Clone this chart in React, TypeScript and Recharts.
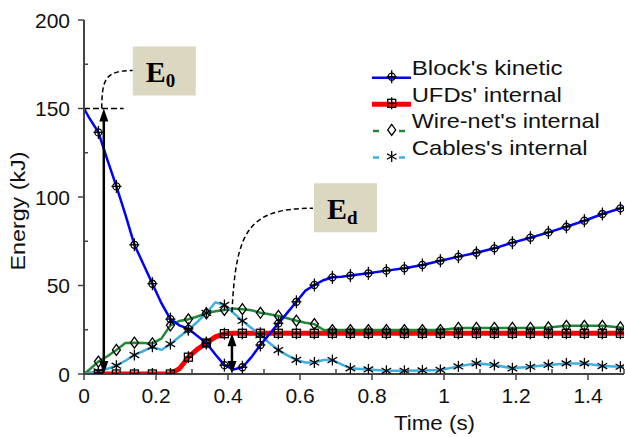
import React from "react"
import { LineChart, Line, XAxis, YAxis, ReferenceLine, Legend } from "recharts"

// sample times (s)
const times = [
  0, 0.015, 0.04, 0.065, 0.09, 0.115, 0.14, 0.165, 0.19, 0.215,
  0.24, 0.265, 0.29, 0.315, 0.34, 0.365, 0.39, 0.415, 0.44, 0.465,
  0.49, 0.515, 0.54, 0.565, 0.59, 0.615, 0.64, 0.665, 0.69, 0.715,
  0.74, 0.79, 0.84, 0.89, 0.94, 0.99, 1.04, 1.09, 1.14, 1.19,
  1.24, 1.29, 1.34, 1.39, 1.44, 1.49, 1.5,
]

// energies (kJ)
const blockKinetic = [
  150, 144.5, 136.5, 121, 106, 90, 73, 62, 51, 40,
  31, 27.5, 25.5, 21.5, 17.5, 11, 5, 2.6, 3.8, 9.5,
  16.4, 22.5, 28.6, 34.7, 40.8, 47, 50.3, 53, 54.6, 55,
  55.6, 56.9, 58.4, 59.7, 61.6, 64, 66.3, 68.5, 71, 74.2,
  77, 80, 83.2, 86.6, 90.4, 93.6, 94.3,
]
const ufdsInternal = [
  0, 0, 0, 0, 0, 0, 0, 0, 0, 0,
  0, 3, 9.5, 14, 17.5, 21, 22.8, 23, 23, 23,
  23, 23, 23, 23, 23, 23, 23, 23, 23, 23,
  23, 23, 23, 23, 23, 23, 23, 23, 23, 23,
  23, 23, 23, 23, 23, 23, 23,
]
const wireNetInternal = [
  0, 2.5, 7, 10, 13.6, 17.5, 17.7, 17.5, 17.3, 20,
  27.5, 30, 30.9, 32.5, 34.3, 35.5, 36.2, 37, 36.6, 36,
  34.6, 33.8, 32.8, 31.5, 30.1, 29, 28.2, 25, 24.8, 24.8,
  24.8, 24.8, 24.8, 24.8, 24.8, 24.8, 26, 26, 26, 26,
  26, 26.3, 27.2, 27.2, 27.2, 26.3, 26,
]
const cablesInternal = [
  0, 0.5, 1.5, 3, 4.7, 7.5, 10.7, 13, 15.4, 13.6,
  16.9, 21, 24.9, 29.5, 34.5, 40.5, 39, 34.5, 30, 26,
  22, 17.5, 13.5, 10.5, 8, 6.5, 6.5, 7.9, 7.9, 5.5,
  3.2, 2.6, 1.8, 1.8, 2, 2.3, 4.3, 6, 5.1, 3.2,
  4.1, 5.1, 6, 6, 4.5, 4.1, 4,
]

const xTicks = [0, 0.1, 0.2, 0.3, 0.4, 0.5, 0.6, 0.7, 0.8, 0.9, 1, 1.1, 1.2, 1.3, 1.4, 1.5]
const xLabels = [0, 0.2, 0.4, 0.6, 0.8, 1, 1.2, 1.4]
const yTicks = [0, 25, 50, 75, 100, 125, 150, 175, 200]
const yLabels = [0, 50, 100, 150, 200]

// markers every 0.05 s starting at 0.04 s
const markerStart = 0.04
const markerStep = 0.05

// annotated energies
const initialEnergy = { t: 0.055, value: 150, label: "0" }
const dissipated = { t: 0.411, value: 23, label: "d" }

const series = [
  { key: "kinetic", name: "Block's kinetic", color: "#0000ff", width: 2.5, marker: "circlePlus", dashed: false, textLength: 151 },
  { key: "ufds", name: "UFDs' internal", color: "#ff0000", width: 5, marker: "squarePlus", dashed: false, textLength: 150 },
  { key: "wireNet", name: "Wire-net's internal", color: "#1f8a35", width: 2.5, marker: "diamond", dashed: true, textLength: 188 },
  { key: "cables", name: "Cables's internal", color: "#3eaee3", width: 2.5, marker: "asterisk", dashed: true, textLength: 176 },
]

const rows = times.map((t, i) => ({
  t,
  kinetic: blockKinetic[i],
  ufds: ufdsInternal[i],
  wireNet: wireNetInternal[i],
  cables: cablesInternal[i],
}))

const FONT = "'Liberation Sans', Arial, Helvetica, sans-serif"
const SERIF = "'Liberation Serif', 'Times New Roman', serif"
const AXIS = "#444"
const INK = "#111"

const isMarker = (t: number) => {
  const k = (t - markerStart) / markerStep
  return t >= markerStart - 0.001 && t < 1.495 && Math.abs(k - Math.round(k)) < 0.01
}

function Marker({ kind, cx, cy }: { kind: string; cx: number; cy: number }) {
  const s = { stroke: "#000", strokeWidth: 1.3, fill: "none" }
  if (kind === "circlePlus") {
    return (
      <g {...s}>
        <circle cx={cx} cy={cy} r={3.5} />
        <line x1={cx - 5} y1={cy} x2={cx + 5} y2={cy} />
        <line x1={cx} y1={cy - 6.5} x2={cx} y2={cy + 6.5} />
      </g>
    )
  }
  if (kind === "squarePlus") {
    return (
      <g {...s}>
        <rect x={cx - 4} y={cy - 4} width={8} height={8} />
        <line x1={cx - 4} y1={cy} x2={cx + 4} y2={cy} />
        <line x1={cx} y1={cy - 6} x2={cx} y2={cy + 6} />
      </g>
    )
  }
  if (kind === "diamond") {
    return (
      <g {...s}>
        <polygon points={`${cx},${cy - 5.5} ${cx + 4},${cy} ${cx},${cy + 5.5} ${cx - 4},${cy}`} />
      </g>
    )
  }
  return (
    <g {...s}>
      <line x1={cx} y1={cy - 5.5} x2={cx} y2={cy + 5.5} />
      <line x1={cx - 4.8} y1={cy - 2.8} x2={cx + 4.8} y2={cy + 2.8} />
      <line x1={cx - 4.8} y1={cy + 2.8} x2={cx + 4.8} y2={cy - 2.8} />
    </g>
  )
}

const makeDot = (kind: string) => (props: any) => {
  const { cx, cy, payload, index } = props
  if (cx == null || cy == null || !isMarker(payload.t)) return <g key={`${kind}-${index}`} />
  return <Marker key={`${kind}-${index}`} kind={kind} cx={cx} cy={cy} />
}

function BottomTick(props: any) {
  const { x, y, payload } = props
  const v = payload.value
  const major = Math.round(v * 10) % 2 === 0
  return (
    <g>
      <line x1={x} y1={y} x2={x} y2={major ? y + 6 : y - 5} stroke={AXIS} strokeWidth={1.5} />
      {xLabels.includes(v) && (
        <text x={x} y={y + 29} textAnchor="middle" fontFamily={FONT} fontSize={21} fill={INK}>
          {String(v)}
        </text>
      )}
    </g>
  )
}

function TopTick(props: any) {
  const { x, y, payload } = props
  if (!xLabels.includes(payload.value)) return <g />
  return <line x1={x} y1={y} x2={x} y2={y + 5} stroke={AXIS} strokeWidth={1.5} />
}

function LeftTick(props: any) {
  const { x, y, payload } = props
  const v = payload.value
  const major = yLabels.includes(v)
  return (
    <g>
      <line x1={x} y1={y} x2={major ? x - 6 : x + 4} y2={y} stroke={AXIS} strokeWidth={1.5} />
      {major && (
        <text x={x - 14} y={y + 7.5} textAnchor="end" fontFamily={FONT} fontSize={21} fill={INK}>
          {v}
        </text>
      )}
    </g>
  )
}

function RightTick(props: any) {
  const { x, y, payload } = props
  if (!yLabels.includes(payload.value)) return <g />
  return <line x1={x} y1={y} x2={x - 5} y2={y} stroke={AXIS} strokeWidth={1.5} />
}

function ArrowHead({ x, y, dir }: { x: number; y: number; dir: number }) {
  // dir = -1 points up, 1 points down
  return <polygon points={`${x},${y} ${x - 4.5},${y - dir * 13} ${x + 4.5},${y - dir * 13}`} fill="#000" />
}

function Tag({ x, y, sub }: { x: number; y: number; sub: string }) {
  return (
    <g>
      <rect x={x} y={y} width={63} height={49} fill="#dbd7c1" />
      <text x={x + 13} y={y + 35.5} fontFamily={SERIF} fontWeight="bold" fontSize={30} fill="#000">
        E
        <tspan fontSize={19} dy={5}>{sub}</tspan>
      </text>
    </g>
  )
}

// vertical double arrow with a dashed leader to a label box
function EnergyArrow(props: any, kind: "e0" | "ed") {
  const { x1, y1, y2 } = props
  const x = x1
  const top = Math.min(y1, y2)
  const bottom = Math.max(y1, y2)
  const dash = { stroke: "#000", strokeWidth: 1.5, strokeDasharray: "5 3", fill: "none" }
  return (
    <g>
      <line x1={x} y1={top + 10} x2={x} y2={bottom - 10} stroke="#000" strokeWidth={2.5} />
      <ArrowHead x={x} y={top} dir={-1} />
      <ArrowHead x={x} y={bottom} dir={1} />
      {kind === "e0" ? (
        <>
          <path d={`M ${x - 2} ${top} C ${x - 2} ${top - 30}, ${x + 2} ${top - 38}, ${x + 29} ${top - 38}`} {...dash} />
          <Tag x={x + 29} y={top - 62} sub={initialEnergy.label} />
        </>
      ) : (
        <>
          <path d={`M ${x} ${top - 21} C ${x + 4} ${top - 103}, ${x + 16} ${top - 125}, ${x + 81} ${top - 125}`} {...dash} />
          <Tag x={x + 82} y={top - 150} sub={dissipated.label} />
        </>
      )}
    </g>
  )
}

function LegendBox() {
  const rowH = 26.6
  return (
    <svg width={260} height={112} style={{ display: "block" }}>
      {series.map((s, i) => {
        const ly = 22.7 + i * rowH
        return (
          <g key={s.key}>
            <line
              x1={7}
              y1={ly}
              x2={46}
              y2={ly}
              stroke={s.color}
              strokeWidth={s.width}
              strokeDasharray={s.dashed ? "6 7" : undefined}
              strokeDashoffset={s.dashed ? -1 : undefined}
            />
            {s.dashed && <rect x={21} y={ly - 7} width={12} height={14} fill="#fff" />}
            <Marker kind={s.marker} cx={26.7} cy={ly - 1} />
            <text
              x={46.7}
              y={ly - 2.7}
              fontFamily={FONT}
              fontSize={21}
              fill={INK}
              textLength={s.textLength}
              lengthAdjust="spacingAndGlyphs"
            >
              {s.name}
            </text>
          </g>
        )
      })}
    </svg>
  )
}

// axis titles drawn over the chart
function AxisTitles() {
  return (
    <svg width={625} height={437} style={{ position: "absolute", left: 0, top: 0, pointerEvents: "none" }}>
      <text x={434.5} y={430} textAnchor="middle" fontFamily={FONT} fontSize={21} fill={INK} textLength={81} lengthAdjust="spacingAndGlyphs">
        Time (s)
      </text>
      <text
        x={25}
        y={211}
        transform="rotate(-90 25 211)"
        textAnchor="middle"
        fontFamily={FONT}
        fontSize={21}
        fill={INK}
        textLength={119}
        lengthAdjust="spacingAndGlyphs"
      >
        Energy (kJ)
      </text>
    </svg>
  )
}

export default function App() {
  return (
    <div style={{ position: "absolute", left: 0, top: 0, width: 625, height: 437, background: "#fff" }}>
      <LineChart width={625} height={437} data={rows} margin={{ top: 20, right: 1, bottom: 0, left: 0 }}>
        <XAxis
          dataKey="t"
          type="number"
          domain={[0, 1.5]}
          ticks={xTicks}
          allowDataOverflow
          height={63}
          tickSize={0}
          tickMargin={0}
          tickLine={false}
          axisLine={{ stroke: AXIS, strokeWidth: 2 }}
          tick={BottomTick}
          interval={0}
        />
        <XAxis
          xAxisId="top"
          orientation="top"
          type="number"
          domain={[0, 1.5]}
          ticks={xTicks}
          allowDataOverflow
          height={0}
          tickSize={0}
          tickMargin={0}
          tickLine={false}
          axisLine={{ stroke: AXIS, strokeWidth: 2 }}
          tick={TopTick}
          interval={0}
        />
        <YAxis
          type="number"
          domain={[0, 200]}
          ticks={yTicks}
          allowDataOverflow
          width={84}
          tickSize={0}
          tickMargin={0}
          tickLine={false}
          axisLine={{ stroke: AXIS, strokeWidth: 2 }}
          tick={LeftTick}
          interval={0}
        />
        <YAxis
          yAxisId="right"
          orientation="right"
          type="number"
          domain={[0, 200]}
          ticks={yTicks}
          allowDataOverflow
          width={0}
          tickSize={0}
          tickMargin={0}
          tickLine={false}
          axisLine={{ stroke: AXIS, strokeWidth: 2 }}
          tick={RightTick}
          interval={0}
        />
        <Line dataKey="ufds" stroke="#ff0000" strokeWidth={5} dot={makeDot("squarePlus")} activeDot={false} isAnimationActive={false} />
        <Line dataKey="wireNet" stroke="#1f8a35" strokeWidth={2.5} dot={makeDot("diamond")} activeDot={false} isAnimationActive={false} />
        <Line dataKey="cables" stroke="#3eaee3" strokeWidth={2.5} dot={makeDot("asterisk")} activeDot={false} isAnimationActive={false} />
        <Line dataKey="kinetic" stroke="#0000ff" strokeWidth={2.5} dot={makeDot("circlePlus")} activeDot={false} isAnimationActive={false} />
        <ReferenceLine
          segment={[{ x: 0, y: initialEnergy.value }, { x: 0.11, y: initialEnergy.value }]}
          stroke="#000"
          strokeWidth={1.5}
          strokeDasharray="6 3"
          ifOverflow="visible"
        />
        <ReferenceLine
          segment={[{ x: initialEnergy.t, y: 0 }, { x: initialEnergy.t, y: initialEnergy.value }]}
          ifOverflow="visible"
          shape={(p: any) => EnergyArrow(p, "e0")}
        />
        <ReferenceLine
          segment={[{ x: dissipated.t, y: 0 }, { x: dissipated.t, y: dissipated.value }]}
          ifOverflow="visible"
          shape={(p: any) => EnergyArrow(p, "ed")}
        />
        <Legend
          layout="horizontal"
          verticalAlign="middle"
          align="center"
          wrapperStyle={{ left: 365, top: 55, width: 260, height: 112 }}
          content={() => <LegendBox />}
        />
      </LineChart>
      <AxisTitles />
    </div>
  )
}
